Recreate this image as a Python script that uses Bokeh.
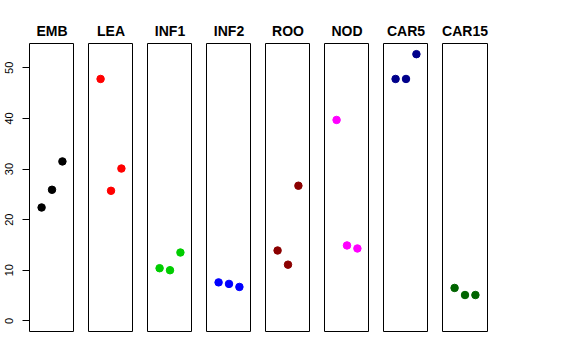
from bokeh.plotting import figure
from bokeh.layouts import row
from bokeh.models import Range1d
from bokeh.embed import file_html
from bokeh.resources import INLINE

# ---- data ----
categories = ["EMB", "LEA", "INF1", "INF2", "ROO", "NOD", "CAR5", "CAR15"]
colors = ["black", "#FF0000", "#00CD00", "#0000FF", "#8B0000", "#FF00FF", "#00008B", "#006400"]
replicate = [1, 2, 3]
emb = [22.4, 25.9, 31.5]
lea = [47.8, 25.7, 30.1]
inf1 = [10.4, 10.0, 13.5]
inf2 = [7.6, 7.3, 6.7]
roo = [13.9, 11.1, 26.7]
nod = [39.7, 14.9, 14.3]
car5 = [47.8, 47.8, 52.7]
car15 = [6.5, 5.1, 5.1]
series = [emb, lea, inf1, inf2, roo, nod, car5, car15]
y_ticks = [0, 10, 20, 30, 40, 50]

y_lo, y_hi = 0.0, max(max(s) for s in series)
pad = 0.04 * (y_hi - y_lo)
yr = Range1d(y_lo - pad, y_hi + pad)
xr = Range1d(-0.16, 4.16)

FONT = "Liberation Sans"
n = len(categories)
figs = []
for i, (cat, col, vals) in enumerate(zip(categories, colors, series)):
    p = figure(frame_width=45, frame_height=288,
               x_range=xr, y_range=yr,
               x_axis_type=None, y_axis_type="linear" if i == 0 else None,
               output_backend="svg", toolbar_location=None,
               min_border_left=29 if i == 0 else 14,
               min_border_right=40 if i == n - 1 else 0,
               min_border_top=43, min_border_bottom=18,
               title=cat)
    p.grid.visible = False
    p.outline_line_color = "black"
    p.outline_line_width = 1
    p.background_fill_color = "white"
    p.border_fill_color = "white"
    p.title.text_font = FONT
    p.title.text_font_style = "bold"
    p.title.text_font_size = "14px"
    p.title.text_color = "black"
    p.title.align = "center"
    p.title.standoff = 9
    if i == 0:
        ax = p.yaxis[0]
        ax.ticker = y_ticks
        ax.bounds = (0, 50)
        ax.major_tick_out = 7
        ax.major_tick_in = 0
        ax.minor_tick_out = 0
        ax.minor_tick_in = 0
        ax.major_label_standoff = 9
        ax.major_label_orientation = "vertical"
        ax.major_label_text_font = FONT
        ax.major_label_text_font_size = "11px"
        ax.major_label_text_color = "black"
        ax.axis_line_color = "black"
        ax.major_tick_line_color = "black"
    p.scatter(replicate, vals, size=7.5, color=col, line_color=col)
    figs.append(p)

layout = row(*figs, spacing=0)
open("out.html", "w").write(file_html(layout, INLINE))
